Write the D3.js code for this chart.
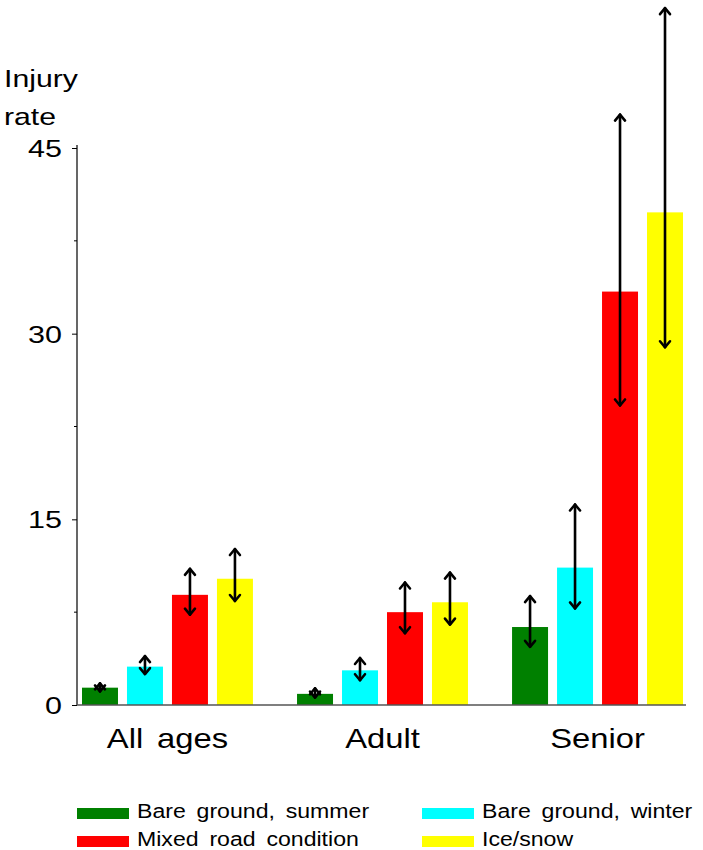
<!DOCTYPE html>
<html>
<head>
<meta charset="utf-8">
<script src="https://cdn.jsdelivr.net/npm/d3@7"></script>
<style>
  html, body { margin: 0; padding: 0; background: #fff; }
  svg text { font-family: "Liberation Sans", Arial, sans-serif; fill: #000; }
</style>
</head>
<body>
<div id="chart"></div>
<script>
const groups = ["All ages", "Adult", "Senior"];
const seriesNames = ["Bare ground, summer", "Bare ground, winter", "Mixed road condition", "Ice/snow"];
const seriesColors = ["#008000", "#00ffff", "#ff0000", "#ffff00"];

// injury rate per group (All ages, Adult, Senior)
const summerRate = [1.4, 0.9, 6.3];
const winterRate = [3.1, 2.8, 11.1];
const mixedRate = [8.9, 7.5, 33.4];
const iceRate = [10.2, 8.3, 39.8];

// confidence intervals
const summerLow = [1.1, 0.6, 4.7],  summerHigh = [1.75, 1.35, 8.8];
const winterLow = [2.5, 2.0, 7.8],  winterHigh = [3.95, 3.8, 16.2];
const mixedLow = [7.3, 5.8, 24.2],  mixedHigh = [11.0, 9.9, 47.7];
const iceLow = [8.4, 6.5, 28.9],    iceHigh = [12.6, 10.7, 56.3];

const majorTicks = [0, 15, 30, 45];
const minorTicks = [7.5, 22.5, 37.5];

const rates = [summerRate, winterRate, mixedRate, iceRate];
const lows = [summerLow, winterLow, mixedLow, iceLow];
const highs = [summerHigh, winterHigh, mixedHigh, iceHigh];

const bars = [];
groups.forEach((g, gi) => {
  seriesNames.forEach((s, si) => {
    bars.push({ group: g, series: s, color: seriesColors[si], value: rates[si][gi], lo: lows[si][gi], hi: highs[si][gi] });
  });
});

const W = 703, H = 850;
const svg = d3.select("#chart").append("svg")
  .attr("width", W)
  .attr("height", H);

const y = d3.scaleLinear().domain([0, 45]).range([705, 148]);
const x0 = d3.scaleBand().domain(groups).range([82, 683]).paddingInner(0.205).paddingOuter(0);
const x1 = d3.scaleBand().domain(seriesNames).range([0, x0.bandwidth()]).paddingInner(0.2).paddingOuter(0);

const axisX = 77;

// the original text is drawn a little wide, so stretch it horizontally
function wideText(sel, x, yy, size, stretch) {
  return sel.append("text")
    .attr("transform", `translate(${x},${yy}) scale(${stretch},1)`)
    .style("font-size", size + "px");
}

// y axis
const yAxis = svg.append("g")
  .attr("transform", `translate(${axisX},0)`)
  .call(d3.axisLeft(y).tickValues(majorTicks).tickSize(5).tickPadding(10).tickFormat(d3.format("d")));
yAxis.select(".domain").remove();
yAxis.selectAll(".tick line").attr("stroke", "#000");
yAxis.selectAll(".tick text")
  .attr("x", null)
  .attr("dy", null)
  .attr("font-family", null)
  .attr("transform", "translate(-15,8.5) scale(1.27,1)")
  .style("font-size", "24px");

svg.append("g").selectAll("line.minor")
  .data(minorTicks)
  .join("line")
  .attr("class", "minor")
  .attr("x1", axisX - 3)
  .attr("x2", axisX)
  .attr("y1", d => y(d))
  .attr("y2", d => y(d))
  .attr("stroke", "#000");

svg.append("line")
  .attr("x1", axisX).attr("x2", axisX)
  .attr("y1", y(0)).attr("y2", 145)
  .attr("stroke", "#000")
  .attr("stroke-width", 1.2);

wideText(svg, 4, 87, 24, 1.26).text("Injury");
wideText(svg, 4, 125, 24, 1.26).text("rate");

// bars
svg.append("g").selectAll("rect")
  .data(bars)
  .join("rect")
  .attr("x", d => x0(d.group) + x1(d.series))
  .attr("y", d => y(d.value))
  .attr("width", x1.bandwidth())
  .attr("height", d => y(0) - y(d.value))
  .attr("fill", d => d.color);

// baseline
svg.append("line")
  .attr("x1", axisX).attr("x2", 686)
  .attr("y1", y(0)).attr("y2", y(0))
  .attr("stroke", "#555")
  .attr("stroke-width", 1.6);

// error arrows
const err = svg.append("g")
  .attr("stroke", "#000")
  .attr("fill", "none")
  .attr("stroke-width", 2.6)
  .attr("stroke-linecap", "round")
  .attr("stroke-linejoin", "round");

bars.forEach(d => {
  const cx = x0(d.group) + x1(d.series) + x1.bandwidth() / 2;
  const yHi = y(d.hi), yLo = y(d.lo);
  err.append("line").attr("x1", cx).attr("x2", cx).attr("y1", yHi).attr("y2", yLo);
  err.append("path").attr("d", `M${cx - 5},${yHi + 6}L${cx},${yHi}L${cx + 5},${yHi + 6}`);
  err.append("path").attr("d", `M${cx - 5},${yLo - 6}L${cx},${yLo}L${cx + 5},${yLo - 6}`);
});

// group labels
groups.forEach(g => {
  wideText(svg, x0(g) + x0.bandwidth() / 2, 748, 28, 1.17)
    .attr("text-anchor", "middle")
    .style("word-spacing", "4px")
    .text(g);
});

// legend
const legendPos = [
  { x: 77, y: 808 },
  { x: 422, y: 808 },
  { x: 77, y: 836 },
  { x: 422, y: 836 }
];
seriesNames.forEach((s, i) => {
  const p = legendPos[i];
  svg.append("rect")
    .attr("x", p.x)
    .attr("y", p.y)
    .attr("width", 52)
    .attr("height", 11)
    .attr("fill", seriesColors[i]);
  wideText(svg, p.x + 60, p.y + 10, 21, 1.1)
    .style("word-spacing", "4px")
    .text(s);
});
</script>
</body>
</html>
